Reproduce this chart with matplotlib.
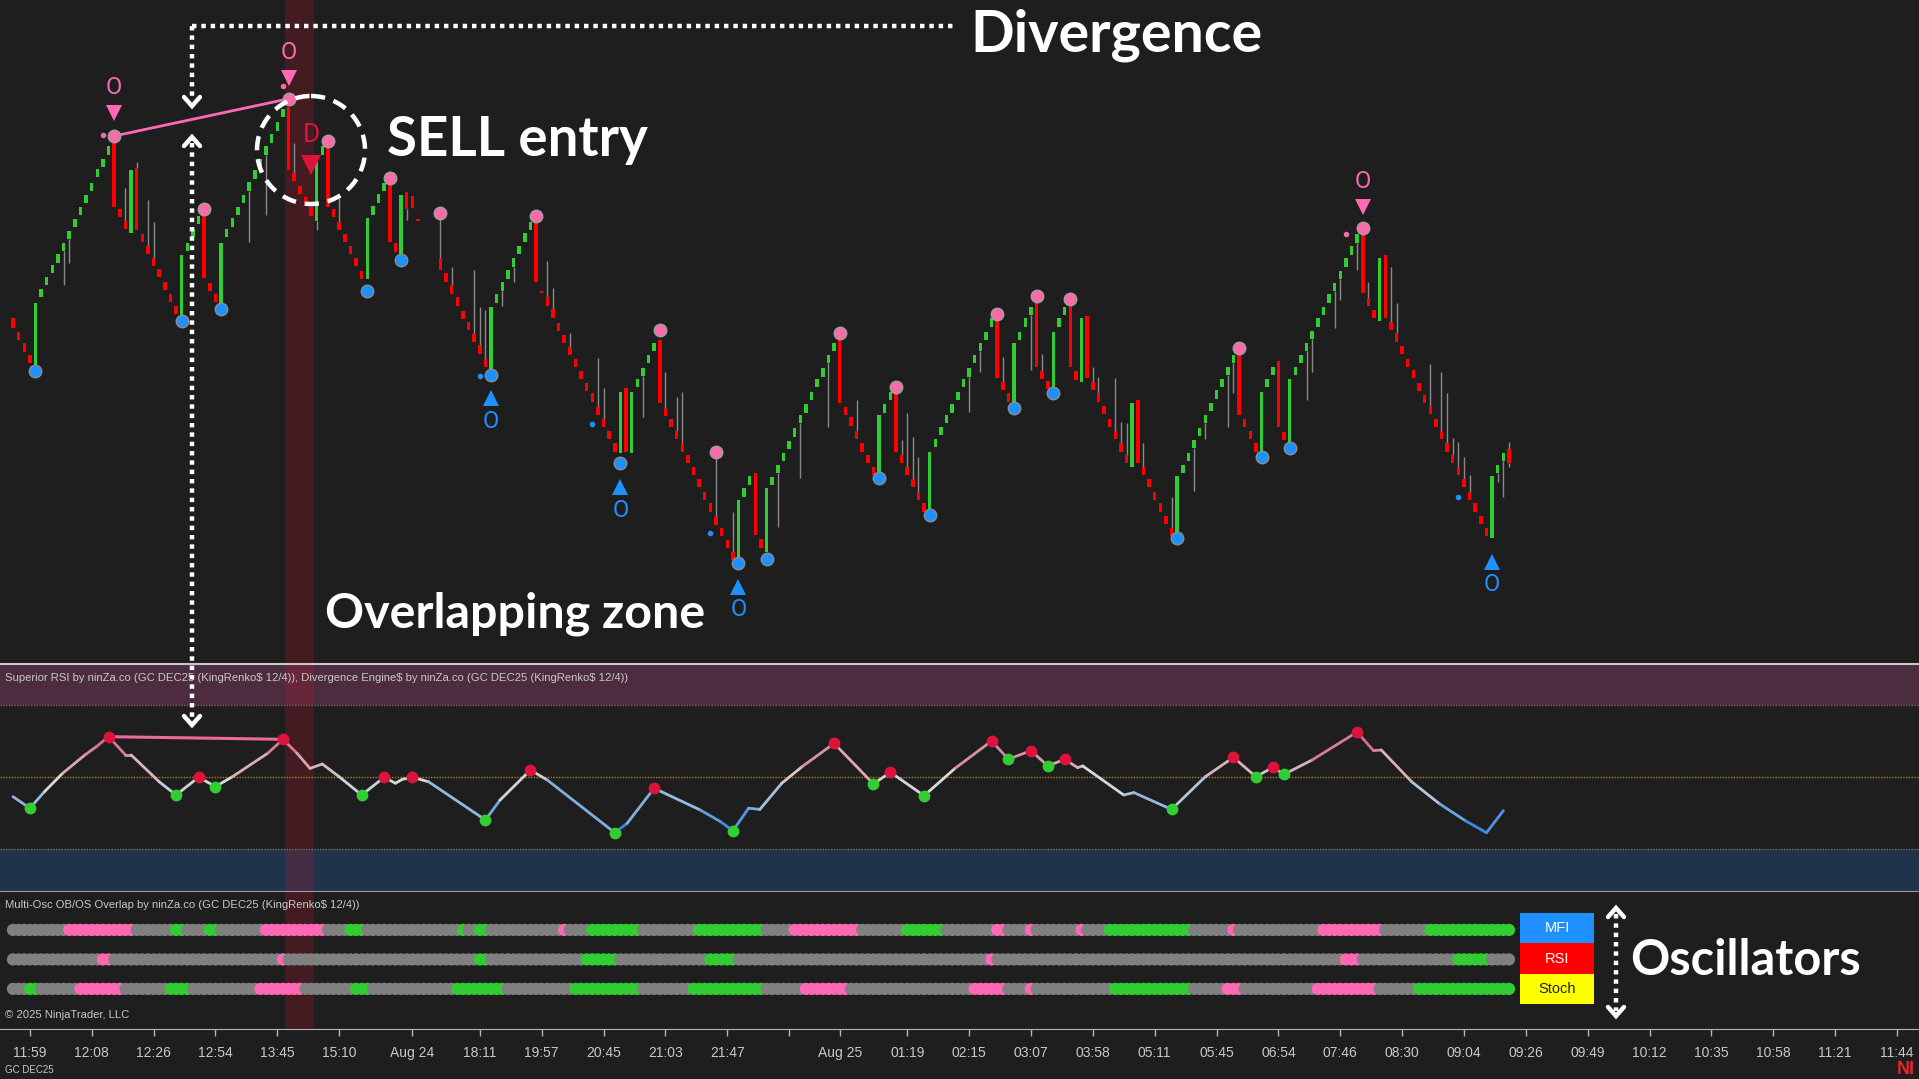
import numpy as np
import matplotlib
matplotlib.use("Agg")
import matplotlib.pyplot as plt
from matplotlib.colors import LinearSegmentedColormap, Normalize
from matplotlib.collections import LineCollection
from matplotlib.patches import Circle, Rectangle
from matplotlib import font_manager as fm

# ----------------------------
# Data (price in brick levels, one entry per bar, None = no bar)
# ----------------------------
opens = [
    28.8, 27.7, 26.75, 25.75, 24.75, 30.55, 31.55, 32.55, 33.45, 34.4,
    35.4, 36.4, 37.4, 38.4, 39.4, 40.55, 41.4, 42.45, 43.4, 37.95,
    36.95, 35.9, 41.3, 35.85, 34.85, 33.85, 32.95, 31.85, 30.85, 29.85,
    28.9, 34.4, 35.55, 36.65, 37.6, 31.75, 30.85, 29.9, 35.55, 36.45,
    37.4, 38.4, 39.45, 40.45, 41.35, 42.45, 43.45, 44.45, 45.55, 46.4,
    40.95, 39.85, 38.95, 38.05, 36.9, 42.45, 43.4, 37.95, 36.85, 35.85,
    34.85, 33.85, 32.75, 32.1, 37.45, 38.45, 39.4, 40.2, 35.05, 33.9,
    39.3, 39.0, 37.1, None, None, None, 33.8, 32.55, 31.55, 30.55,
    29.45, 28.5, 27.5, 26.55, 25.45, 24.5, 30.1, 31.1, 32.1, 33.1,
    34.15, 35.2, 36.15, 37.0, 31.1, 30.55, 29.55, 28.45, 27.45, 26.45,
    25.45, 24.45, 23.45, 22.55, 21.45, 20.45, 19.45, 18.4, 17.6, 23.0,
    17.6, 23.05, 24.0, 25.05, 26.05, 27.0, 21.35, 20.45, 19.45, 18.4,
    17.45, 16.45, 15.45, 14.35, 13.4, 12.25, 11.35, 10.35, 9.35, 8.5,
    13.95, 14.95, 15.9, 10.4, 9.3, 14.9, 15.9, 16.9, 17.9, 18.95,
    20.05, 20.95, 22.0, 23.05, 23.95, 25.05, 26.05, 27.0, 21.45, 20.55,
    19.45, 18.4, 17.45, 16.45, 15.6, 20.95, 22.0, 22.9, 17.45, 16.45,
    15.45, 14.35, 13.4, 12.6, 18.05, 19.05, 20.05, 20.95, 22.0, 23.05,
    23.95, 25.05, 26.05, 27.0, 28.1, 29.1, 23.5, 22.55, 21.6, 27.0,
    28.1, 29.05, 30.1, 24.45, 23.6, 22.6, 28.1, 29.05, 30.0, 24.4,
    23.5, 29.0, 23.5, 22.6, 21.5, 20.45, 19.45, 18.4, 17.45, 16.4,
    22.0, 16.45, 15.45, 14.35, 13.4, 12.35, 11.35, 10.5, 15.9, 16.9,
    18.0, 19.0, 20.05, 21.05, 22.1, 23.05, 24.05, 25.05, 26.2, 20.45,
    19.45, 18.4, 17.4, 23.05, 24.05, 25.25, 19.35, 18.25, 24.05, 25.05,
    26.05, 27.05, 28.1, 29.05, 30.1, 31.05, 32.05, 33.1, 34.1, 35.1,
    36.1, 30.5, 29.5, 28.6, 34.1, 28.5, 27.55, 26.5, 25.45, 24.5,
    23.45, 22.45, 21.5, 20.45, 19.45, 18.4, 17.45, 16.45, 15.45, 14.35,
    13.4, 12.35, 11.35, 10.5, 15.9, 16.9, 17.9,
]
closes = [
    28.0, 27.0, 26.0, 25.1, 30.1, 31.25, 32.25, 33.25, 34.15, 35.1,
    36.1, 37.1, 38.1, 39.1, 40.1, 41.25, 42.1, 43.15, 38.1, 37.25,
    36.25, 41.2, 36.2, 35.15, 34.15, 33.15, 32.25, 31.15, 30.15, 29.15,
    34.1, 35.1, 36.25, 37.35, 32.2, 31.05, 30.15, 35.1, 36.25, 37.15,
    38.1, 39.1, 40.15, 41.15, 42.05, 43.15, 44.15, 45.15, 46.25, 41.2,
    40.25, 39.15, 38.25, 37.35, 42.1, 43.15, 38.1, 37.25, 36.15, 35.15,
    34.15, 33.15, 32.05, 37.2, 38.15, 39.15, 40.1, 35.2, 34.35, 39.1,
    37.9, 38.0, 36.9, None, None, None, 32.8, 31.85, 30.85, 29.85,
    28.75, 27.8, 26.8, 25.85, 24.75, 29.75, 30.8, 31.8, 32.8, 33.8,
    34.85, 35.9, 36.85, 31.8, 30.9, 29.85, 28.85, 27.75, 26.75, 25.75,
    24.75, 23.75, 22.75, 21.85, 20.75, 19.75, 18.75, 17.7, 22.7, 17.7,
    22.7, 23.75, 24.7, 25.75, 26.75, 21.75, 20.65, 19.75, 18.75, 17.7,
    16.75, 15.75, 14.75, 13.65, 12.7, 11.55, 10.65, 9.65, 8.65, 13.7,
    14.65, 15.65, 10.75, 9.7, 14.7, 15.6, 16.6, 17.6, 18.6, 19.65,
    20.75, 21.65, 22.7, 23.75, 24.65, 25.75, 26.75, 21.75, 20.75, 19.85,
    18.75, 17.7, 16.75, 15.75, 20.75, 21.65, 22.7, 17.7, 16.75, 15.75,
    14.75, 13.65, 12.7, 17.7, 18.75, 19.75, 20.75, 21.65, 22.7, 23.75,
    24.65, 25.75, 26.75, 27.7, 28.8, 23.8, 22.8, 21.85, 26.75, 27.7,
    28.8, 29.75, 24.75, 23.75, 22.9, 27.7, 28.8, 29.75, 24.75, 23.7,
    28.8, 23.8, 22.8, 21.8, 20.8, 19.75, 18.75, 17.7, 16.75, 21.75,
    16.75, 15.75, 14.75, 13.65, 12.7, 11.65, 10.65, 15.7, 16.6, 17.6,
    18.7, 19.7, 20.75, 21.75, 22.8, 23.75, 24.75, 25.75, 20.75, 19.75,
    18.75, 17.7, 22.7, 23.75, 24.75, 19.75, 18.65, 23.75, 24.75, 25.75,
    26.75, 27.75, 28.8, 29.75, 30.8, 31.75, 32.75, 33.8, 34.8, 35.8,
    30.9, 29.8, 28.8, 33.8, 28.8, 27.8, 26.85, 25.8, 24.75, 23.8,
    22.75, 21.75, 20.8, 19.75, 18.75, 17.7, 16.75, 15.75, 14.75, 13.65,
    12.7, 11.65, 10.65, 15.7, 16.6, 17.6, 16.75,
]
wick_hi = {20: 39.7, 22: 41.8, 24: 38.7, 25: 36.8, 50: 43.4, 58: 38.9, 76: 37.4,
           78: 33.1, 82: 32.8, 83: 29.75, 84: 29.5, 95: 33.6, 96: 31.3, 99: 27.6,
           104: 25.5, 105: 23.0, 116: 24.3, 118: 22.25, 119: 22.7, 125: 17.6,
           128: 12.7, 150: 22.0, 158: 18.7, 159: 20.9, 160: 18.9, 161: 17.25,
           176: 25.6, 183: 25.8, 192: 24.75, 193: 23.9, 196: 23.8, 197: 20.2,
           198: 20.1, 201: 18.4, 206: 13.9, 241: 31.8, 245: 33.1, 246: 30.1,
           252: 25.0, 254: 24.3, 255: 22.6, 256: 18.8, 257: 18.5, 258: 17.25,
           259: 15.75, 266: 18.5}
wick_lo = {9: 31.6, 10: 33.4, 42: 35.2, 45: 37.4, 54: 36.2, 70: 37.0, 87: 29.8,
           89: 31.8, 112: 20.6, 136: 11.4, 140: 15.5, 145: 19.75, 170: 21.0,
           172: 24.3, 181: 24.5, 210: 14.4, 212: 18.75, 216: 19.75, 217: 22.6,
           230: 22.0, 231: 24.3, 235: 28.0, 236: 30.3, 239: 32.8, 264: 15.2,
           265: 13.9, 266: 16.4}

# swing dots on price
swing_hi_bar = [18, 34, 49, 56, 67, 76, 93, 115, 125, 147, 157, 175, 182, 188, 218, 240]
swing_hi_lvl = [44.0, 37.9, 47.1, 43.6, 40.5, 37.6, 37.3, 27.8, 17.7, 27.6, 23.1, 29.2, 30.7, 30.4, 26.3, 36.3]
swing_lo_bar = [4, 30, 37, 63, 69, 85, 108, 129, 134, 154, 163, 178, 185, 207, 222, 227]
swing_lo_lvl = [24.4, 28.6, 29.6, 31.1, 33.7, 24.1, 16.75, 8.4, 8.75, 15.5, 12.4, 21.3, 22.6, 10.5, 17.25, 18.0]
small_hi_bar = [16, 48, 237]
small_hi_lvl = [44.1, 48.2, 35.8]
small_lo_bar = [83, 103, 124, 257]
small_lo_lvl = [24.0, 20.0, 10.9, 13.9]

# overbought / oversold signals ("O")
ob_bar = [18, 49, 240]
ob_tri = [45.95, 48.8, 38.1]
ob_txt = [48.0, 50.95, 40.2]
os_bar = [85, 108, 129, 263]
os_tri = [22.2, 14.75, 6.4, 8.5]
os_txt = [20.2, 12.8, 4.5, 6.6]
div_bar, div_txt, div_tri = 53, 44.1, 41.6

# RSI line vertices and pivots
rsi_x = [0, 3, 5.6, 8.8, 12.8, 14.8, 17, 20, 21, 26, 29, 33, 36, 39, 45.3, 48, 50.5,
         52.8, 55, 58, 62, 66, 68, 69.2, 71, 73.9, 84, 86.6, 92, 95, 107, 109.2, 114,
         122.2, 125.8, 128, 130.8, 132.8, 136.7, 140.3, 146, 153, 156, 162, 167.5, 174,
         177, 181, 184, 187, 189.3, 190.2, 197.5, 199.3, 206, 212, 217, 221, 224, 226,
         231, 239, 241.9, 243.3, 248.7, 253.7, 258.3, 262, 265]
rsi_y = [41.8, 37.0, 43.9, 51.5, 59.2, 62.6, 66.8, 59.2, 59.2, 48, 42.5, 49.9, 46, 50.1,
         59.9, 65.7, 59.9, 53.6, 55.4, 50.1, 42.5, 49.9, 47.4, 49, 49.9, 48, 32.1, 40.4,
         52.9, 48.75, 26.8, 30.7, 45.3, 36.25, 31.4, 27.6, 37, 36.5, 47.4, 54.3, 64, 47.1,
         52, 42.2, 53.6, 65, 57.4, 61, 54.6, 57.4, 53.9, 54.6, 42.5, 43.5, 36.5, 50.1,
         58.2, 50.1, 54, 51.1, 57.1, 68.75, 61, 61.25, 48, 38.75, 31.7, 26.8, 36]
rsi_hi_bar = [17, 33, 48, 66, 71, 92, 114, 146, 156, 174, 181, 187, 217, 224, 239]
rsi_hi_val = [66.8, 49.9, 65.7, 49.9, 49.9, 52.9, 45.3, 64, 52, 65, 61, 57.4, 58.2, 54, 68.75]
rsi_lo_bar = [3, 29, 36, 62, 84, 107, 128, 153, 162, 177, 184, 206, 221, 226]
rsi_lo_val = [37.0, 42.5, 46, 42.5, 32.1, 26.8, 27.6, 47.1, 42.2, 57.4, 54.6, 36.5, 50.1, 51.1]

# Multi-Osc rows: run starts (bar) and state n=neutral p=overbought g=oversold
mfi_start = [0, 10, 22, 29, 31, 35, 37, 45, 56, 60, 63, 80, 81, 83, 85, 98, 99, 103, 112,
             122, 134, 139, 151, 159, 166, 175, 177, 181, 182, 190, 191, 195, 210, 217,
             218, 233, 244, 252]
mfi_state = list("npngngnpngngngnpngngnpngnpnpnpngnpnpng")
rsi_start = [0, 16, 18, 48, 49, 83, 85, 102, 108, 124, 129, 174, 175, 237, 240, 257, 263]
rsi_state = list("npnpngngngnpnpngn")
sto_start = [0, 3, 5, 12, 20, 28, 32, 44, 52, 61, 64, 79, 88, 100, 112, 121, 134, 141, 149,
             171, 177, 181, 182, 196, 210, 216, 219, 232, 243, 250]
sto_state = list("ngnpngnpngngngngnpnpnpngnpnpng")
osc_names = ["MFI", "RSI", "Stoch"]

tick_bars = [3, 14, 25, 36, 47, 58, 71, 83, 94, 105, 116, 127, 138, 147, 159, 170, 181,
             192, 203, 214, 225, 236, 247, 258, 269, 280, 291, 302, 313, 324, 335]
tick_labels = ["11:59", "12:08", "12:26", "12:54", "13:45", "15:10", "Aug 24", "18:11",
               "19:57", "20:45", "21:03", "21:47", "", "Aug 25", "01:19", "02:15", "03:07",
               "03:58", "05:11", "05:45", "06:54", "07:46", "08:30", "09:04", "09:26",
               "09:49", "10:12", "10:35", "10:58", "11:21", "11:44"]
zone = (48.4, 53.6)

# ----------------------------
# Figure / panels
# ----------------------------
W, H = 1919, 1079
BG = "#1e1e1e"
GREEN, RED = "#32cd32", "#ff0000"
PINK, BLUE = "#ff69b4", "#1e90ff"
names = {f.name for f in fm.fontManager.ttflist}
HAS_NARROW = "Liberation Sans Narrow" in names
NARROW = ["Liberation Sans Narrow", "Liberation Sans"] if HAS_NARROW else ["Liberation Sans"]
small_fs = 9 if HAS_NARROW else 8.1
BIG = ["Lato", "DejaVu Sans"]

fig = plt.figure(figsize=(W / 100, H / 100), dpi=100, facecolor=BG)
XLIM = (-13 / 5.624, (W - 13) / 5.624)


def panel(top, bottom):
    ax = fig.add_axes([0, 1 - bottom / H, 1, (bottom - top) / H])
    ax.set_facecolor(BG)
    ax.set_xlim(*XLIM)
    ax.set_xticks([]), ax.set_yticks([])
    for s in ax.spines.values():
        s.set_visible(False)
    return ax


ax_p = panel(0, 664)
ax_r = panel(664, 891)
ax_o = panel(891, 1029)
ax_p.set_ylim(0, 664 / 12)
ax_r.set_ylim(2.5, 97.08)
ax_o.set_ylim(3.36, -1.32)

for ax in (ax_p, ax_r, ax_o):
    ax.axvspan(*zone, color="#c81428", alpha=0.22, lw=0, zorder=0.5)

# ---- price bars
xs = np.array([i for i, o in enumerate(opens) if o is not None])
o_arr = np.array([opens[i] for i in xs])
c_arr = np.array([closes[i] for i in xs])
cols = np.where(c_arr >= o_arr, GREEN, RED)
for i, v in wick_hi.items():
    ax_p.vlines(i, max(opens[i], closes[i]), v, color="#8a8a8a", lw=1, zorder=1)
for i, v in wick_lo.items():
    ax_p.vlines(i, v, min(opens[i], closes[i]), color="#8a8a8a", lw=1, zorder=1)
ax_p.bar(xs, c_arr - o_arr, bottom=o_arr, width=0.62, color=cols, lw=0, zorder=2)

ax_p.plot([18, 49], [44.0, 47.1], color=PINK, lw=2, zorder=3)
ax_p.plot(swing_hi_bar, swing_hi_lvl, "o", ms=9, color="#f86aa8", mec="#a0a0a0", mew=1, zorder=4)
ax_p.plot(swing_lo_bar, swing_lo_lvl, "o", ms=9, color=BLUE, mec="#8c8c8c", mew=1, zorder=4)
ax_p.plot(small_hi_bar, small_hi_lvl, "o", ms=4, color="#f86aa8", mew=0, zorder=4)
ax_p.plot(small_lo_bar, small_lo_lvl, "o", ms=4, color=BLUE, mew=0, zorder=4)
ax_p.plot(ob_bar, ob_tri, "v", ms=11, color=PINK, mew=0, zorder=4)
ax_p.plot(os_bar, os_tri, "^", ms=11, color=BLUE, mew=0, zorder=4)
for b, y in zip(ob_bar, ob_txt):
    ax_p.text(b, y, "O", color=PINK, fontsize=17, ha="center", va="center", family="Roboto")
for b, y in zip(os_bar, os_txt):
    ax_p.text(b, y, "O", color=BLUE, fontsize=17, ha="center", va="center", family="Roboto")
ax_p.text(div_bar, div_txt, "D", color="#dc143c", fontsize=19, ha="center", va="center", family="Roboto")
ax_p.plot([div_bar], [div_tri], "v", ms=14, color="#dc143c", mew=0, zorder=4)

# ---- RSI panel
ax_r.axhspan(80, 100, color="#4c2c3e", lw=0, zorder=0.2)
ax_r.axhspan(0, 20, color="#1f344a", lw=0, zorder=0.2)
ax_r.axhline(80, color="#7a6068", lw=1, ls=(0, (1, 1)), zorder=0.6)
ax_r.axhline(20, color="#6a6a6a", lw=1, ls=(0, (1, 1)), zorder=0.6)
ax_r.axhline(50, color="#a8821e", lw=1, ls=(0, (1, 1)), zorder=0.6)
cmap = LinearSegmentedColormap.from_list("rsi", ["#2f86e6", "#d9d9d9", "#d65a7e"])
norm = Normalize(28, 68)
pts = np.column_stack([rsi_x, rsi_y])
segs = np.stack([pts[:-1], pts[1:]], axis=1)
mid = (pts[:-1, 1] + pts[1:, 1]) / 2
ax_r.add_collection(LineCollection(segs, colors=cmap(norm(mid)), lw=2, zorder=2,
                                   capstyle="round", joinstyle="round"))
ax_r.plot([17, 48], [66.8, 65.7], color="#ec6a9e", lw=2.2, zorder=2.5)
ax_r.plot(rsi_hi_bar, rsi_hi_val, "o", ms=8.5, color="#dc143c", mew=0, zorder=3)
ax_r.plot(rsi_lo_bar, rsi_lo_val, "o", ms=8.5, color=GREEN, mew=0, zorder=3)
ax_r.spines["top"].set_visible(True)
ax_r.spines["top"].set_color("#c8c8c8")
ax_r.spines["top"].set_linewidth(1.5)
ax_r.text(0.0026, 0.94, "Superior RSI by ninZa.co (GC DEC25 (KingRenko$ 12/4)), Divergence Engine$ by ninZa.co "
          "(GC DEC25 (KingRenko$ 12/4))", transform=ax_r.transAxes, color="#c8c8c8",
          fontsize=small_fs, family=NARROW, va="center")

# ---- Multi-Osc panel
state_col = {"n": "#808080", "p": PINK, "g": GREEN}
n_bars = len(opens)
for row, (starts, states) in enumerate([(mfi_start, mfi_state), (rsi_start, rsi_state),
                                        (sto_start, sto_state)]):
    bounds = starts + [n_bars]
    bar_cols = []
    for k, st in enumerate(states):
        bar_cols += [state_col[st]] * (bounds[k + 1] - bounds[k])
    ax_o.scatter(np.arange(n_bars), np.full(n_bars, row), s=78, c=bar_cols,
                 linewidths=0, zorder=2)
ax_o.spines["top"].set_visible(True)
ax_o.spines["top"].set_color("#9a9a9a")
ax_o.spines["bottom"].set_visible(True)
ax_o.spines["bottom"].set_color("#b4b4b4")
ax_o.set_xticks(tick_bars)
ax_o.set_xticklabels(tick_labels, family=NARROW)
ax_o.tick_params(axis="x", colors="#b4b4b4", labelcolor="#c8c8c8", length=5, width=1,
                 direction="out", pad=7, labelsize=10)
ax_o.text(0.0026, 0.9, "Multi-Osc OB/OS Overlap by ninZa.co (GC DEC25 (KingRenko$ 12/4))",
          transform=ax_o.transAxes, color="#c8c8c8", fontsize=small_fs, family=NARROW, va="center")
ax_o.text(0.0026, 0.1, "\u00a9 2025 NinjaTrader, LLC", transform=ax_o.transAxes,
          color="#c8c8c8", fontsize=small_fs, family=NARROW, va="center")

# ----------------------------
# Overlay (pixel coordinates) for annotations
# ----------------------------
ov = fig.add_axes([0, 0, 1, 1], zorder=10)
ov.set_xlim(0, W)
ov.set_ylim(H, 0)
ov.axis("off")
ov.patch.set_visible(False)

box_cols = [(BLUE, "white"), (RED, "white"), ("#ffff00", "#222222")]
for k, (name, (fc, tc)) in enumerate(zip(osc_names, box_cols)):
    y0 = 913 + k * 30.3
    ov.add_patch(Rectangle((1520, y0), 74, 30.3, facecolor=fc, lw=0))
    ov.text(1557, y0 + 15.5, name, color=tc, fontsize=10.5, ha="center", va="center",
            family="Liberation Sans")

dot = dict(color="white", lw=3.2, ls=(0, (1, 1.1)))
ov.plot([192, 956], [26, 26], **dot)
ov.plot([192, 192], [26, 100], **dot)
ov.plot([192, 192], [143, 719], **dot)
ov.plot([1616, 1616], [914, 1011], **dot)


def chevron(x, y, up):
    d = 9 if up else -9
    ov.plot([x - 8, x, x + 8], [y + d, y, y + d], color="white", lw=3.2,
            solid_capstyle="round", solid_joinstyle="miter")


chevron(192, 106, False)
chevron(192, 137, True)
chevron(192, 725, False)
chevron(1616, 908, True)
chevron(1616, 1016, False)

ov.add_patch(Circle((311, 150), 54, fill=False, ec="white", lw=3.2, ls=(0, (3.2, 2))))


def fit_text(x, y, s, width):
    t = ov.text(x, y, s, fontsize=40, color="white", fontweight="bold", family=BIG,
                ha="left", va="baseline")
    w = t.get_window_extent(renderer=fig.canvas.get_renderer()).width
    t.set_fontsize(40 * width / w)
    return t


fit_text(970, 51, "Divergence", 292)
fit_text(387, 156, "SELL entry", 261)
fit_text(325, 628, "Overlapping zone", 380)
fit_text(1630, 975, "Oscillators", 231)

ov.text(5, 1070, "GC DEC25", color="#c8c8c8", fontsize=7, family=NARROW, va="center")
ov.text(1897, 1069, "NI", color="#e8262b", fontsize=13, fontweight="bold",
        family="Liberation Sans", va="center")

fig.savefig("out.png", dpi=100, facecolor=BG)
